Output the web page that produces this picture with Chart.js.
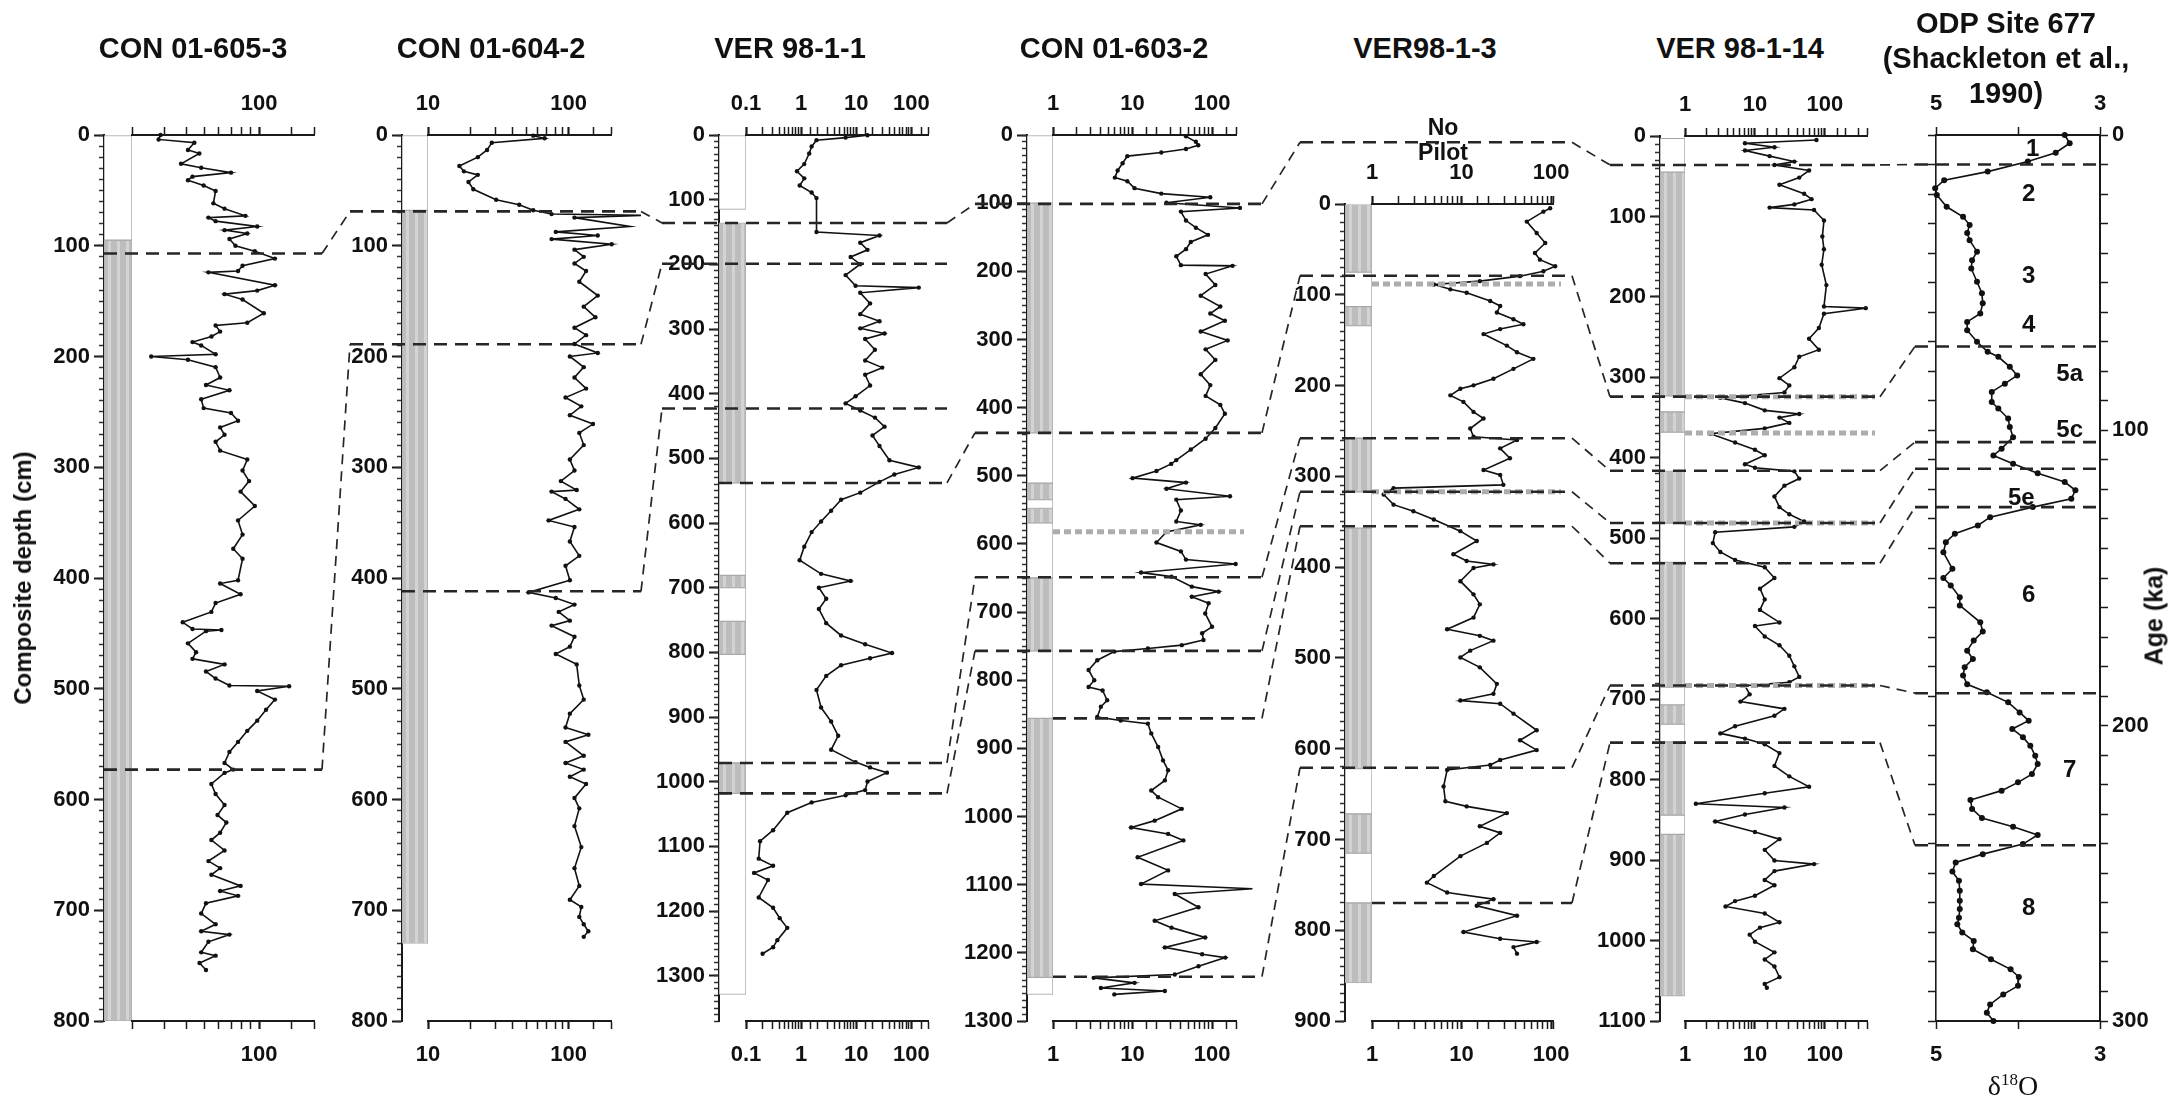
<!DOCTYPE html>
<html>
<head>
<meta charset="utf-8">
<script src="https://cdn.jsdelivr.net/npm/chart.js@4.4.1/dist/chart.umd.min.js"></script>
<style>
html, body { margin: 0; padding: 0; background: #fff; }
#page { position: relative; width: 2172px; height: 1112px; overflow: hidden; font-family: "Liberation Sans", Arial, sans-serif; color: #111; }
#page canvas { position: absolute; }
.txt { position: absolute; transform: translate(-50%, -50%); white-space: nowrap; font-weight: bold; text-align: center; }
</style>
</head>
<body>
<div id="page"></div>
<script>
// cores, left to right
const coreNames = ['CON 01-605-3', 'CON 01-604-2', 'VER 98-1-1', 'CON 01-603-2', 'VER98-1-3', 'VER 98-1-14'];

// concentration vs composite depth (cm)
const p1Depth = [0,4,7,13.5,16.7,26,29.6,34,37.6,40.8,
  45.6,50.5,61.7,66.5,73,74.6,77.8,82.6,85.9,89,
  93.9,100,105,111.6,118,122.8,124,135.7,140.5,143.7,
  148.6,161,169.5,172,177.5,182,187,190,198,200,
  203,209.6,219,225.7,230.5,238.6,246.6,251,258,264,
  270.7,277,285,293,303,312.5,322,335,348,360.8,
  373.6,382.6,402,405,414.7,422.6,430.6,440,446,447,
  448,459,467,473,478,484.4,490.8,497,497.8,502,
  509.8,519,528.8,538,548,557,567,573,576,586,
  595,605,614,620.8,630,636.6,646,655.6,662,668,
  678,682.6,687,693.7,703,712.7,719,722,728.5,738,
  741,747.6,754];
const p1Conc = [28.7,28,44,40.6,46.9,37.2,48,70,43,40.6,
  49.5,57.6,56,64.5,84,52.6,57.6,97.5,64.5,86,
  68.6,74,94.6,122,81,76.5,52.6,122,97.5,64.5,
  81,106,86,57.6,61,54.7,43,48,57.6,25.5,
  40.6,57.6,61,51,68.6,48,49.5,70,76.5,61,
  64.5,57.6,61,86,81,88,79,94.6,76.5,81,
  72,81,76.5,61,79,57.6,54.6,38,43,62,
  51,40.6,45,43,64.5,51,57.6,68.6,146,97.5,
  122,109,97.5,86,76.5,68.6,64.5,72,64.5,54.6,
  57.6,64.5,59,66,61,54.6,64.5,52.6,61,54.6,
  79,61,76.5,51,48,57.6,48,68.6,52.6,48,
  57.6,47,51];

const p2Depth = [0.6,3,7,13.5,20,28,32.8,36,42.4,49,
  58.5,63,68,71.4,72.5,74.6,82.6,87.5,90.7,94,
  98.7,103.5,110,116,122.8,132.5,145,155,164.6,174,
  180.7,188.7,196.8,200,209.6,219,229,237,245,253,
  261,269,280,293,303,312.5,320.6,322,328.6,338,
  348,354,367,380,389,402,413,418,424,430.6,
  438.5,443,453,462,468.6,478,497,509.8,522.5,535,
  541.5,548,560.5,567,573,579.5,586,598.6,608,624,
  643,662,678,690.5,697,706,712.7,719,724];
const p2Conc = [56,67.5,28.4,26.3,22.6,16.7,18,22.6,19.4,21,
  30.5,44.5,56,75.6,350,110,273,81,161,75.6,
  202,110,128,110,133,119,161,128,155,110,
  133,110,161,102,128,110,133,95,123,102,
  149,119,128,102,110,88,114,75.6,95,119,
  72,110,102,119,95,102,51.8,81,110,85,
  102,75.6,110,102,81,114,119,128,102,95,
  138,95,128,95,128,102,133,110,119,110,
  123,110,119,102,123,119,128,138,128];

const p3Depth = [0.3,4,8,17.6,28.7,45,56,67,78,89,
  97.6,150,155.5,166.5,177.6,188.7,199.8,216.6,233,236,
  244,260.4,277,288,299,307,315.5,332,348.6,359.7,
  370.7,387.4,404,415,426,437,451,464.6,481,503,
  514,525,536.3,553,564,581,597.6,614,636.5,657.5,
  678.6,689.5,700,717,733,754.8,773.8,787.5,801,809,
  820,836.4,858,885.3,907,929,950.6,969.7,977.9,986,
  999.6,1013,1021,1032,1048,1075,1092,1119,1130,1141,
  1152,1179,1195,1211,1226,1245,1256,1266];
const p3Conc = [16,6.4,1.9,1.55,1.4,1.14,0.84,1.14,0.94,1.55,
  1.9,1.9,26.4,11.8,16,7.9,11.8,6.4,9.7,136,
  11.8,17.8,11.8,26.4,11.8,32.6,14.5,21.8,14.5,29.6,
  14.5,17.8,9.7,6.4,11.8,21.8,32.6,19.7,26.4,40,
  136,49,26.4,11.8,5.3,3.5,2.3,1.55,1.14,0.94,
  2.3,7.9,2.1,2.85,2.1,2.85,5.3,14.5,44.5,17.8,
  5.3,2.85,1.9,2.3,3.5,4.7,3.5,9.7,17.8,36,
  16,14.5,6.4,1.55,0.56,0.31,0.18,0.17,0.31,0.14,
  0.25,0.17,0.31,0.41,0.56,0.37,0.31,0.2];

const p4Depth = [2,10,15,20.5,25.7,31,41.5,52,62.5,67.9,
  78,86,91.4,99.3,107,112.4,125.5,136,146.5,157,
  167.5,178,191,192,204,220,235.8,251.6,262,272.5,
  288.3,301.4,314.5,330,351,367,382.8,396,409,430,
  445.7,461.5,477,482.6,493,503.5,510,519,530,535,
  551,567,572,582.4,598,611,623,629.4,642,648,
  662.7,670,677.5,687,702,721.6,731,741,748.5,753.4,
  758,770.6,785,800,810,815,829.4,839,854,859,
  863.7,878,898,917.6,932,947,961.8,971.6,988.7,1006,
  1016,1025.5,1035,1059.8,1079,1099,1106,1113.7,1133,1153,
  1163,1177.5,1192,1202,1207,1219.6,1231.8,1236.7,1244,1251.5,
  1256,1261];
const p4Conc = [47,62.6,67,47,23,8.6,7.5,6.5,6,8.6,
  10.6,23,95,26.7,224,40.6,47,62.6,89,54,
  47,35.5,40.6,181,83,110,72,127,95,145,
  72,157,83,110,72,95,83,127,145,110,
  83,54,35.5,30.6,20,10,47,26.7,168,35.5,
  40.6,35.5,72,26.7,20,40.6,47,198,12.8,30.9,
  55.6,121,55.6,90.6,82,100,75,78,41.6,15.6,
  5.9,3.6,2.8,3.3,2.8,4.2,4.8,4,3.6,7.1,
  15.6,17.2,21,24.2,28,25.5,17.2,21,41.6,19,
  9.6,28,43.6,11.6,28,12.8,322,34,67.5,19,
  30.9,82,25.5,75,147,67.5,34,3.25,10.6,4,
  25.5,5.9];

const p5Depth = [4.7,8.4,19.4,32,43,54,61.3,68.6,74,79.5,
  85,88.6,94,97.7,106.8,112.3,119.6,126.9,132.4,137.8,
  143.3,156,163.3,170.6,181.6,192.5,199.8,203.5,210.8,218,
  229,236.3,247.3,256.4,260,269.2,280,293,298.4,309.4,
  313,320,331.2,338.5,347.6,360.4,371.3,385.9,393.3,397,
  401,415.5,430,441,455.6,468.4,475.7,481,492,499.5,
  510.4,528.6,539.6,547,550.5,561.4,579.7,590.7,601.6,612.5,
  618,623.5,641.7,658,663.6,671,685.5,692.8,703.8,718.4,
  740.3,747.6,758.5,765.8,773,784,802,809.4,813,818.6,
  825.8];
const p5Conc = [97.6,82,53.5,69,86,66,75,111,82,45,
  16,4.9,7.5,11.4,20.9,27,24.8,38,49,27,
  17.6,32,41.6,63.4,38,22.7,13.6,9.7,7.5,10.5,
  13.6,17.6,12.5,13.6,41.6,27,34.7,17.6,27,29.3,
  1.74,1.35,1.74,2.9,4.9,9.7,14.8,8.1,11.4,22.7,
  13.6,9.7,13.6,16,13.6,6.9,16,22.7,12.5,9.7,
  16,24.8,22.7,9.7,27,38,69,45,69,27,
  20.9,6.9,6.3,6.6,11.4,32,16,27,19.2,9.7,
  4.9,4.1,6.9,22.7,14.8,41.6,10.5,27,69,38,
  41.6];

const p6Depth = [5,9,14,18,25,31.8,36,42.8,51.7,60.6,
  71.8,78.5,85,89,92,105,125,140.8,160,185.3,
  212,214,221,238.7,252,265.6,274.4,287.5,301,310,
  318.8,325.4,332,341,345.5,350,356.6,363.4,370,381,
  390,396.8,408,412.4,416.8,425.8,434.6,448,461.3,470.2,
  479.2,485.8,492.5,506,517,527,536,549.4,562.6,576,
  589,604.6,609,622,633,646,659.2,672.3,679,683.2,
  694,703,712,720.5,733.7,742.5,749,756,767,782.9,
  795.9,808.8,817,830,834.6,843.4,852,865,874,887.3,
  900.6,905,913.7,924.7,931.3,944.3,951,957.6,966.3,977.3,
  984,992.7,1001.5,1014.7,1023.5,1032.3,1045.5,1054,1058.6];
const p6Conc = [75.8,7.2,19,7.2,16.2,36.6,19,59.4,43,22.4,
  50.5,64.5,36.6,16.2,70,97,92,97,90,105,
  97,384,97,82,59.4,82,43,36.6,22.4,31,
  26.4,3.2,7.2,13.8,43,22.4,31,13.8,2.3,5.2,
  10,13.8,7.2,10,36.6,43,26.4,19,22.4,31,
  50.5,36.6,2.7,2.5,3.2,5.2,13.8,19,11.8,13.8,
  11.8,22.4,10,13.8,22.4,31,36.6,43,31,7.2,
  8.4,6.2,26.4,19,5.2,3.2,7.2,13.8,22.4,19,
  31,59.4,13.8,1.43,26.4,7.2,2.7,10,22.4,13.8,
  19,70,19,13.8,19,10,5.2,3.8,13.8,22.4,
  11.8,8.4,10,19,13.8,19,22.4,13.8,14.8];

// ODP 677 benthic d18O vs age (ka)
const p7Age = [0,2.8,6,9,12.4,15.3,18,20.3,24.3,27.7,
  30.5,33.2,35.6,39.5,42.4,45.2,49.7,53.6,57,60.4,
  63.3,66.1,70,73.4,75.1,78.5,81.4,84.2,87,90.4,
  92.6,96,98.9,102.3,106.2,108.5,111.3,114.5,117.5,120.3,
  123.2,126,129.4,132.2,135,137.9,141.3,146.9,150,152.5,
  156.5,159.3,165,168.1,171.2,174.6,177.4,180.2,183,186,
  188.7,192.1,195.5,198.3,201.1,203.9,206.8,210.2,213,216.4,
  219.2,222,225.2,228.2,231.3,234.2,237,240.1,243.5,246.3,
  249.4,252.5,255.9,259.3,262.1,265,267.2,270,272.9,275.7,
  279.1,282.5,285.1,288.1,291,294.4,297.2,300];
const p7D18O = [3.43,3.37,3.54,3.88,4.37,4.90,5.01,4.99,4.87,4.67,
  4.59,4.62,4.59,4.50,4.56,4.57,4.50,4.44,4.43,4.46,
  4.62,4.62,4.50,4.37,4.24,4.10,4.01,4.16,4.32,4.32,
  4.24,4.12,4.10,4.06,4.20,4.30,4.06,3.76,3.43,3.30,
  3.35,3.82,4.34,4.49,4.77,4.88,4.91,4.80,4.91,4.82,
  4.71,4.71,4.46,4.43,4.54,4.62,4.55,4.65,4.67,4.62,
  4.38,4.12,3.98,3.87,4.07,3.94,3.85,3.79,3.76,3.83,
  4.00,4.20,4.58,4.56,4.44,4.06,3.76,3.94,4.43,4.76,
  4.80,4.72,4.71,4.71,4.71,4.72,4.74,4.68,4.54,4.55,
  4.33,4.09,3.99,4.00,4.18,4.34,4.38,4.30];

// marine isotope stages written in the ODP panel
const stageNames = ['1', '2', '3', '4', '5a', '5c', '5e', '6', '7', '8'];
const stageAge = [5, 20, 48, 64.5, 81, 100, 123, 156, 215, 262];
const stageD18O = [3.82, 3.87, 3.87, 3.87, 3.37, 3.37, 3.96, 3.87, 3.37, 3.87];

// lithological units (top, base in cm; 1 = grey/glacial)
const p1UnitTop = [0, 95], p1UnitBase = [95, 800], p1UnitGrey = [0, 1];
const p2UnitTop = [0, 68], p2UnitBase = [68, 730], p2UnitGrey = [0, 1];
const p3UnitTop = [0, 136, 538, 681, 700, 752, 803, 971, 1018];
const p3UnitBase = [115, 538, 681, 700, 752, 803, 971, 1018, 1329];
const p3UnitGrey = [0, 1, 0, 1, 0, 1, 0, 1, 0];
const p4UnitTop = [0, 100, 437, 511, 535, 548, 569, 650, 757, 856, 1236];
const p4UnitBase = [100, 437, 511, 535, 548, 569, 650, 757, 856, 1236, 1261];
const p4UnitGrey = [0, 1, 0, 1, 0, 1, 0, 1, 0, 1, 0];
const p5UnitTop = [0, 75, 113, 134, 258, 317, 357, 622, 672, 715, 770];
const p5UnitBase = [75, 113, 134, 258, 317, 357, 622, 672, 715, 770, 858];
const p5UnitGrey = [1, 0, 1, 0, 1, 0, 1, 0, 1, 0, 1];
const p6UnitTop = [3, 45, 323, 343, 368, 417, 481, 530, 685, 707, 731, 753, 844, 868];
const p6UnitBase = [45, 323, 343, 368, 417, 481, 530, 685, 707, 731, 753, 844, 868, 1069];
const p6UnitGrey = [0, 1, 0, 1, 0, 1, 0, 1, 0, 1, 0, 1, 0, 1];

// correlation lines: [panel, depth cm] ... last panel is age (ka)
const corrLines = [
  [[0, 107], [1, 69], [2, 136], [3, 101], [4, -68], [5, 36], [6, 10]],
  [[0, 573], [1, 189], [2, 199]],
  [[1, 412], [2, 423]],
  [[2, 538], [3, 437], [4, 79], [5, 324], [6, 71.6]],
  [[2, 971], [3, 649], [4, 258], [5, 416], [6, 104]],
  [[2, 1018], [3, 757], [4, 317], [5, 481], [6, 113]],
  [[3, 856], [4, 355], [5, 531], [6, 126]],
  [[3, 1235], [4, 621], [5, 683], [6, 189]],
  [[4, 770], [5, 754], [6, 240.5]]
];
const corrStartInPlot = [false, false, false, false, false, false, true, true, true];
// grey marker horizons
const tephraPanel = [3, 4, 4, 5, 5, 5, 5];
const tephraDepth = [582, 88, 317, 324, 369, 481, 683];

// axis ranges
const coreXMin = [20, 10, 0.1, 1, 1, 1];
const coreXMax = [200, 200, 200, 200, 105, 400];
const coreDepthMax = [800, 800, 1370, 1300, 900, 1100];

// ---- layout (page pixels) ----
const PLOT_BOTTOM = 1021;
const TOP_BOX = 60, BOT_BOX = 60, AXIS_W = 80, PADX = 30;
const coreLayout = [
  { stratLeft: 104, stratRight: 132, dataRight: 314, top: 135 },
  { stratLeft: 402, stratRight: 428, dataRight: 611, top: 135 },
  { stratLeft: 719, stratRight: 746, dataRight: 928, top: 135 },
  { stratLeft: 1027, stratRight: 1053, dataRight: 1236, top: 135 },
  { stratLeft: 1345, stratRight: 1372, dataRight: 1553, top: 204 },
  { stratLeft: 1660, stratRight: 1685, dataRight: 1867, top: 136 }
];
const odpLayout = { left: 1936, right: 2100, top: 135, leftW: 30, rightW: 80 };
const lineInPad = [0, 52, 57, 52, 45, 50, 21];
const lineOutPad = [8, 30, 19, 26, 19, 13, 0];

const coreDepths = [p1Depth, p2Depth, p3Depth, p4Depth, p5Depth, p6Depth];
const coreConcs = [p1Conc, p2Conc, p3Conc, p4Conc, p5Conc, p6Conc];
const coreUnits = [
  [p1UnitTop, p1UnitBase, p1UnitGrey], [p2UnitTop, p2UnitBase, p2UnitGrey],
  [p3UnitTop, p3UnitBase, p3UnitGrey], [p4UnitTop, p4UnitBase, p4UnitGrey],
  [p5UnitTop, p5UnitBase, p5UnitGrey], [p6UnitTop, p6UnitBase, p6UnitGrey]
];

Chart.defaults.font.family = '"Liberation Sans", Arial, sans-serif';
Chart.defaults.color = '#111';

const page = document.getElementById('page');
const tickFont = { size: 22, weight: 'bold' };

function makeCanvas(w, h) {
  const c = document.createElement('canvas');
  c.width = w; c.height = h;
  c.style.width = w + 'px'; c.style.height = h + 'px';
  page.appendChild(c);
  return c;
}

// move the canvas so its plot area lands on (x, y)
function place(canvas, chart, x, y) {
  const left = x - chart.chartArea.left, top = y - chart.chartArea.top;
  canvas.style.left = left + 'px';
  canvas.style.top = top + 'px';
  return { left, top };
}

function addText(html, cx, cy, css) {
  const d = document.createElement('div');
  d.className = 'txt';
  d.innerHTML = html;
  d.style.left = cx + 'px';
  d.style.top = cy + 'px';
  Object.assign(d.style, css || {});
  page.appendChild(d);
}

function greyFill() {
  const c = document.createElement('canvas');
  c.width = 9; c.height = 4;
  const g = c.getContext('2d');
  g.fillStyle = '#bdbdbd'; g.fillRect(0, 0, 9, 4);
  g.fillStyle = '#d3d3d3'; g.fillRect(3, 0, 3, 4);
  return g.createPattern(c, 'repeat');
}
const greyPattern = greyFill();

function isDecade(v) {
  const e = Math.log10(v);
  return Math.abs(e - Math.round(e)) < 1e-6;
}
function decadeLabel(v) {
  return isDecade(v) ? String(Number(v.toPrecision(2))) : '';
}

const geo = [];

coreNames.forEach((name, k) => {
  const L = coreLayout[k];
  const H = (PLOT_BOTTOM - L.top) + TOP_BOX + BOT_BOX;
  const [uTop, uBase, uGrey] = coreUnits[k];

  // lithology column + depth axis
  const sc = makeCanvas(AXIS_W + (L.stratRight - L.stratLeft), H);
  const strat = new Chart(sc, {
    type: 'bar',
    data: {
      labels: [''],
      datasets: uTop.map((t, j) => ({
        data: [[t, uBase[j]]],
        backgroundColor: uGrey[j] ? greyPattern : '#ffffff',
        borderColor: uGrey[j] ? '#b0b0b0' : '#a3a3a3',
        borderWidth: 1,
        borderSkipped: false,
        grouped: false,
        barPercentage: 1,
        categoryPercentage: 1,
        yAxisID: 'y'
      }))
    },
    options: {
      animation: false, responsive: false, devicePixelRatio: 1,
      layout: { padding: { top: TOP_BOX, bottom: BOT_BOX, left: 0, right: 0 } },
      plugins: { legend: { display: false }, tooltip: { enabled: false } },
      scales: {
        x: { display: false },
        y: {
          type: 'linear', position: 'left', weight: 1, reverse: true, min: 0, max: coreDepthMax[k],
          afterFit: s => { s.width = AXIS_W; },
          border: { display: true, color: '#1a1a1a', width: 2 },
          grid: { drawOnChartArea: false, tickLength: 10, tickWidth: 2, tickColor: '#1a1a1a' },
          ticks: { stepSize: 100, autoSkip: false, includeBounds: false, padding: 4, font: tickFont,
                   callback: v => String(v) }
        },
        yMinor: {
          type: 'linear', position: 'left', weight: 0, reverse: true, min: 0, max: coreDepthMax[k],
          afterFit: s => { s.width = 0; },
          border: { display: false },
          grid: { drawOnChartArea: false, tickLength: 5, tickWidth: 1.5, tickColor: '#333' },
          ticks: { stepSize: 10, autoSkip: false, includeBounds: false, display: false }
        }
      }
    }
  });
  place(sc, strat, L.stratLeft, L.top);

  // concentration curve
  const logAxis = pos => ({
    type: 'logarithmic', position: pos, min: coreXMin[k], max: coreXMax[k],
    afterFit: s => { s.height = pos === 'top' ? TOP_BOX : BOT_BOX; },
    border: { display: true, color: '#1a1a1a', width: 2 },
    grid: {
      drawOnChartArea: false, tickLength: 8, tickColor: '#1a1a1a',
      tickWidth: c => (c.tick && isDecade(c.tick.value) ? 2.2 : 1.5)
    },
    ticks: {
      autoSkip: false, maxRotation: 0, minRotation: 0,
      padding: pos === 'top' ? 10 : 13, font: tickFont, callback: decadeLabel
    }
  });
  const dc = makeCanvas((L.dataRight - L.stratRight) + 2 * PADX, H);
  const data = new Chart(dc, {
    type: 'line',
    data: {
      datasets: [{
        data: coreDepths[k].map((d, j) => ({ x: coreConcs[k][j], y: d })),
        borderColor: '#111', borderWidth: 1.6, tension: 0,
        pointRadius: 2.2, pointBackgroundColor: '#111', pointBorderWidth: 0,
        clip: false, xAxisID: 'x', yAxisID: 'y'
      }]
    },
    options: {
      indexAxis: 'y',
      animation: false, responsive: false, devicePixelRatio: 1,
      layout: { padding: { left: PADX, right: PADX, top: 0, bottom: 0 } },
      plugins: { legend: { display: false }, tooltip: { enabled: false } },
      scales: {
        x: logAxis('bottom'),
        xTop: logAxis('top'),
        y: { type: 'linear', display: false, reverse: true, min: 0, max: coreDepthMax[k] }
      }
    }
  });
  const dPos = place(dc, data, L.stratRight, L.top);

  geo.push({
    chart: data, top: dPos.top,
    stratLeft: L.stratLeft, dataLeft: L.stratRight, dataRight: L.dataRight
  });
});

// ODP 677 panel
const stagePlugin = {
  id: 'stages',
  afterDatasetsDraw(chart) {
    const { ctx, scales } = chart;
    ctx.save();
    ctx.font = 'bold 24px "Liberation Sans", Arial, sans-serif';
    ctx.fillStyle = '#111';
    ctx.textAlign = 'center';
    ctx.textBaseline = 'middle';
    stageNames.forEach((s, i) => {
      ctx.fillText(s, scales.x.getPixelForValue(stageD18O[i]), scales.y.getPixelForValue(stageAge[i]));
    });
    ctx.restore();
  }
};

const O = odpLayout;
const oc = makeCanvas(O.leftW + (O.right - O.left) + O.rightW, (PLOT_BOTTOM - O.top) + TOP_BOX + BOT_BOX);
const isoAxis = pos => ({
  type: 'linear', position: pos, min: 3, max: 5, reverse: true,
  afterFit: s => { s.height = pos === 'top' ? TOP_BOX : BOT_BOX; },
  border: { display: true, color: '#1a1a1a', width: 2 },
  grid: { drawOnChartArea: false, tickLength: 8, tickWidth: 1.5, tickColor: '#1a1a1a' },
  ticks: {
    stepSize: 1, autoSkip: false, maxRotation: 0, padding: pos === 'top' ? 10 : 13, font: tickFont,
    callback: v => (v === 4 ? '' : String(v))
  }
});
const odp = new Chart(oc, {
  type: 'line',
  data: {
    datasets: [{
      data: p7Age.map((a, j) => ({ x: p7D18O[j], y: a })),
      borderColor: '#111', borderWidth: 1.6, tension: 0,
      pointRadius: 3, pointBackgroundColor: '#111', pointBorderWidth: 0,
      clip: false, xAxisID: 'x', yAxisID: 'y'
    }]
  },
  options: {
    indexAxis: 'y',
    animation: false, responsive: false, devicePixelRatio: 1,
    layout: { padding: 0 },
    plugins: { legend: { display: false }, tooltip: { enabled: false } },
    scales: {
      x: isoAxis('bottom'),
      xTop: isoAxis('top'),
      y: {
        type: 'linear', position: 'left', reverse: true, min: 0, max: 300,
        afterFit: s => { s.width = O.leftW; },
        border: { display: true, color: '#1a1a1a', width: 1.6 },
        grid: { drawOnChartArea: false, tickLength: 8, tickWidth: 1.5, tickColor: '#1a1a1a' },
        ticks: { stepSize: 10, autoSkip: false, display: false }
      },
      yR: {
        type: 'linear', position: 'right', reverse: true, min: 0, max: 300,
        afterFit: s => { s.width = O.rightW; },
        border: { display: true, color: '#1a1a1a', width: 2 },
        grid: { drawOnChartArea: false, tickLength: 8, tickWidth: 1.5, tickColor: '#1a1a1a' },
        ticks: {
          stepSize: 10, autoSkip: false, padding: 4, font: tickFont,
          callback: v => (v % 100 === 0 ? String(v) : '')
        }
      }
    }
  },
  plugins: [stagePlugin]
});
const oPos = place(oc, odp, O.left, O.top);
geo.push({ chart: odp, top: oPos.top, stratLeft: O.left, dataLeft: O.left, dataRight: O.right });

// correlation lines drawn on top, through each panel's own depth scale
const ov = makeCanvas(2172, 1112);
ov.style.left = '0px'; ov.style.top = '0px'; ov.style.zIndex = 5; ov.style.pointerEvents = 'none';
const g = ov.getContext('2d');
const yAt = (p, v) => geo[p].top + geo[p].chart.scales.y.getPixelForValue(v);

tephraPanel.forEach((p, i) => {
  const y = yAt(p, tephraDepth[i]);
  g.save();
  g.strokeStyle = '#adadad'; g.lineWidth = 5; g.setLineDash([7, 4]);
  g.beginPath(); g.moveTo(geo[p].dataLeft, y); g.lineTo(geo[p].dataRight + 8, y); g.stroke();
  g.restore();
});

corrLines.forEach((line, li) => {
  const pts = line.map(([p, v], j) => {
    const G = geo[p];
    const x0 = j === 0 ? (corrStartInPlot[li] ? G.dataLeft : G.stratLeft) : G.stratLeft - lineInPad[p];
    return [x0, yAt(p, v), G.dataRight + lineOutPad[p]];
  });
  g.save();
  g.strokeStyle = '#262626';
  g.lineWidth = 2.6; g.setLineDash([13, 8]);
  pts.forEach(([x0, y, x1]) => { g.beginPath(); g.moveTo(x0, y); g.lineTo(x1, y); g.stroke(); });
  g.lineWidth = 1.7; g.setLineDash([10, 7]);
  for (let j = 1; j < pts.length; j++) {
    g.beginPath(); g.moveTo(pts[j - 1][2], pts[j - 1][1]); g.lineTo(pts[j][0], pts[j][1]); g.stroke();
  }
  g.restore();
});

// titles and axis names
const titleX = [193, 491, 790, 1114, 1425, 1740];
coreNames.forEach((n, k) => addText(n, titleX[k], 48, { fontSize: '29px' }));
addText('ODP Site 677<br>(Shackleton et al.,<br>1990)', 2006, 58, { fontSize: '29px', lineHeight: '35px' });
addText('No<br>Pilot', 1443, 140, { fontSize: '23px', lineHeight: '25px' });
addText('Composite depth (cm)', 23, 578, { fontSize: '24px', transform: 'translate(-50%, -50%) rotate(-90deg)' });
addText('Age (ka)', 2154, 616, { fontSize: '25px', transform: 'translate(-50%, -50%) rotate(-90deg)' });
addText('&delta;<sup style="font-size:17px">18</sup>O', 2013, 1086,
  { fontSize: '28px', fontWeight: 'normal', fontFamily: '"Liberation Serif", "DejaVu Serif", serif' });
</script>
</body>
</html>
